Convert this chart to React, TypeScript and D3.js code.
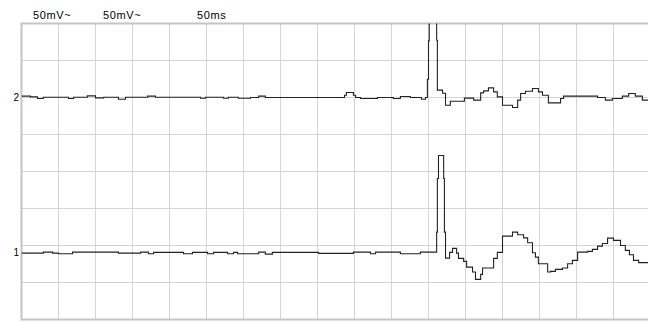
import React, { useEffect, useRef } from 'react';
import * as d3 from 'd3';

// sweep time (ms) and amplitude (mV, relative to channel baseline)
const ch2Time = [0, 2.4, 4.3, 5.9, 12.7, 14.1, 17.8, 20.0, 22.2, 26.2, 28.1, 34.1, 36.2, 48.4, 49.7, 54.6, 55.9, 58.6, 61.9, 64.1, 65.9, 87.3, 87.8, 89.7, 90.3, 91.6, 96.2, 100.5, 102.4, 105.1, 108.1, 109.2, 109.7, 110.0, 110.2, 112.2, 112.4, 113.8, 114.6, 115.9, 119.7, 122.2, 124.1, 124.9, 126.2, 127.6, 128.6, 130.0, 132.7, 134.1, 134.9, 136.2, 138.1, 139.7, 140.8, 142.4, 145.7, 146.5, 155.7, 157.8, 159.7, 162.4, 164.1, 165.9, 167.8, 170];
const ch2Values = [1.8, 0.8, -1.4, 0.4, -1.4, 0.4, 2.2, -0.5, 0.4, -2.3, 0.4, 1.8, 0.4, -1, 0.4, -1, 0.4, -1, 0, 1.8, 0, 3, 6.8, 3, 0, -1.4, 0, -1.4, 1.4, 0, -2.3, 0, 24.7, 76.5, 110, 77.4, 9.9, 5.8, -10.4, -5, -0.9, -3.6, 6.2, 8.9, 13, 7.6, 0.8, -10.4, -13.5, -3.6, 5.4, 8.5, 12.2, 7.6, 3.1, -7.3, -1.4, 1.8, 0, -3.6, -1.4, 1.8, 5.4, 1.8, -3.6, -3.6];

const ch1Time = [0, 5.9, 8.4, 10.0, 13.8, 26.2, 32.2, 34.3, 35.7, 43.8, 46.2, 50.3, 51.9, 55.7, 57.3, 58.4, 64.1, 65.9, 67.8, 80.3, 89.7, 94.3, 95.7, 102.4, 107.8, 112.2, 112.4, 112.7, 114.1, 114.3, 114.6, 115.7, 116.5, 117.6, 118.1, 119.5, 120.3, 121.9, 122.7, 124.1, 124.6, 127.6, 128.6, 130.0, 132.7, 134.1, 135.7, 136.8, 138.1, 138.9, 139.7, 142.2, 143.0, 144.3, 146.2, 147.6, 148.9, 150.3, 153.0, 154.3, 155.7, 157.0, 158.4, 160.0, 161.9, 163.2, 164.3, 165.4, 166.8, 170];
const ch1Values = [-0.3, 1.1, -0.3, -1.1, 1.1, -0.3, 1.1, -1.1, 0.7, -1.1, 0.7, -1.1, 0.7, -1.1, 0.7, -1.1, 1.1, -1.6, 0.7, -0.7, 1.1, -1.1, 1.1, -1.1, 1.1, 28.1, 100.6, 131.7, 100.6, 28.1, -7, 0.7, 6.1, -0.3, -7.4, -11.5, -19.2, -25.9, -35.8, -29, -20.5, -7.4, 0.7, 22.7, 28.1, 24.6, 20.3, 13.8, 0.3, -5.7, -14.6, -25.9, -25, -22.3, -20.5, -14.6, -10.1, 1.1, 2, 4.7, 9.2, 12.8, 20, 16.9, 10.1, 3.4, -2.4, -10.1, -13.2, -13.2];

const channels = [
  { name: '2', baseline: 300, time: ch2Time, values: ch2Values },
  { name: '1', baseline: 90, time: ch1Time, values: ch1Values },
];

const headerLabels = ['50mV~', '50mV~', '50ms'];
const headerX = [33, 103, 197];

const App = () => {
  const ref = useRef<SVGSVGElement>(null);

  useEffect(() => {
    const width = 648;
    const height = 322;
    const svg = d3.select(ref.current);
    svg.selectAll('*').remove();

    const x = d3.scaleLinear().domain([0, 170]).range([21.5, 650.5]);
    const y = d3.scaleLinear().domain([0, 400]).range([319.5, 23.5]);

    svg.append('rect').attr('width', width).attr('height', height).attr('fill', '#fff');

    svg.append('clipPath').attr('id', 'plot-clip')
      .append('rect')
      .attr('x', x(0)).attr('y', y(400))
      .attr('width', x(170) - x(0)).attr('height', y(0) - y(400));

    // grid
    const grid = svg.append('g').attr('stroke', '#d4d4d4').attr('stroke-width', 1);
    grid.selectAll('line.v')
      .data(d3.range(0, 171, 10))
      .join('line')
      .attr('class', 'v')
      .attr('x1', d => x(d)).attr('x2', d => x(d))
      .attr('y1', y(0)).attr('y2', y(400));
    grid.selectAll('line.h')
      .data(d3.range(0, 401, 50))
      .join('line')
      .attr('class', 'h')
      .attr('x1', x(0)).attr('x2', x(170))
      .attr('y1', d => y(d)).attr('y2', d => y(d));

    // frame
    svg.append('rect')
      .attr('x', x(0)).attr('y', y(400))
      .attr('width', x(170) - x(0)).attr('height', y(0) - y(400))
      .attr('fill', 'none').attr('stroke', '#c4c4c4').attr('stroke-width', 2);

    // header labels
    svg.append('g')
      .style('font', '11px "Liberation Sans", Arial, sans-serif')
      .style('letter-spacing', '0.6px')
      .selectAll('text')
      .data(headerLabels)
      .join('text')
      .attr('x', (d, i) => headerX[i])
      .attr('y', 19)
      .attr('fill', '#000')
      .text(d => d);

    const line = d3.line<[number, number]>()
      .x(d => x(d[0]))
      .y(d => y(d[1]))
      .curve(d3.curveStepAfter);

    const traces = svg.append('g').attr('clip-path', 'url(#plot-clip)');
    channels.forEach(ch => {
      const pts: [number, number][] = ch.time.map((t, i) => [t, ch.baseline + ch.values[i]]);
      traces.append('path')
        .attr('d', line(pts))
        .attr('fill', 'none')
        .attr('stroke', '#222')
        .attr('stroke-width', 1.1);

      svg.append('text')
        .attr('x', 19)
        .attr('y', y(ch.baseline) + 3)
        .attr('text-anchor', 'end')
        .style('font', '10px "Liberation Sans", Arial, sans-serif')
        .attr('fill', '#000')
        .text(ch.name);
    });
  }, []);

  return (
    <svg
      ref={ref}
      width={648}
      height={322}
      style={{ position: 'absolute', left: 0, top: 0, display: 'block' }}
    />
  );
};

export default App;
